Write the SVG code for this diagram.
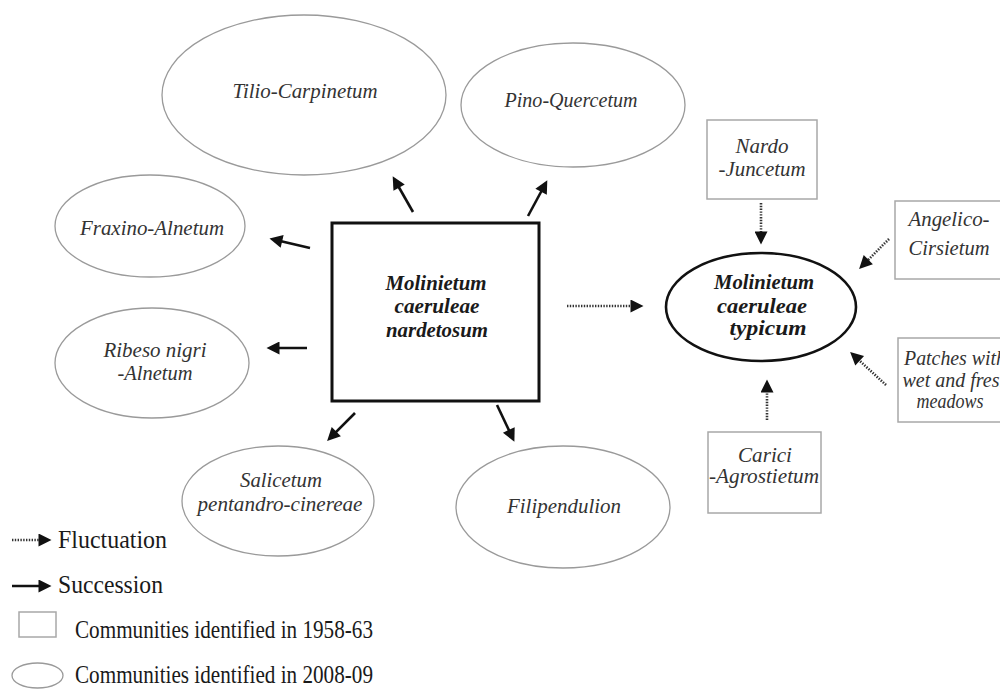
<svg xmlns="http://www.w3.org/2000/svg" width="1000" height="689" viewBox="0 0 1000 689">
<defs>
<style>
.oval{fill:none;stroke:#9a9a9a;stroke-width:1.3}
.box{fill:none;stroke:#a8a8a8;stroke-width:1.5}
.lbl{font-family:"Liberation Serif","Times New Roman",serif;font-style:italic;font-size:22px;fill:#333;text-anchor:middle}
.bold{font-family:"Liberation Serif","Times New Roman",serif;font-style:italic;font-weight:bold;font-size:21px;fill:#1a1a1a;text-anchor:middle}
.leg{font-family:"Liberation Serif","Times New Roman",serif;font-size:26px;fill:#1a1a1a}
.succ{stroke:#111;stroke-width:2.6;fill:none}
.fluc{stroke:#333;stroke-width:2.6;fill:none;stroke-dasharray:1.4 1.4}
</style>
<marker id="ah" viewBox="0 0 10 10" refX="5" refY="5" markerUnits="userSpaceOnUse" markerWidth="16" markerHeight="13" orient="auto">
<path d="M0,0 L10,5 L0,10 z" fill="#111"/>
</marker>
</defs>
<rect width="1000" height="689" fill="#fff"/>

<g id="tilio"><ellipse class="oval" cx="304" cy="95" rx="142" ry="80"/><text class="lbl" x="305" y="98" textLength="145" lengthAdjust="spacingAndGlyphs">Tilio-Carpinetum</text></g>
<g id="pino"><ellipse class="oval" cx="573" cy="105" rx="112" ry="62"/><text class="lbl" x="571" y="107" textLength="133" lengthAdjust="spacingAndGlyphs">Pino-Quercetum</text></g>
<g id="fraxino"><ellipse class="oval" cx="150" cy="226" rx="95" ry="51"/><text class="lbl" x="152" y="235" textLength="144" lengthAdjust="spacingAndGlyphs">Fraxino-Alnetum</text></g>
<g id="ribeso"><ellipse class="oval" cx="152" cy="363" rx="97" ry="55"/><text class="lbl" x="155" y="357" textLength="103" lengthAdjust="spacingAndGlyphs">Ribeso nigri</text><text class="lbl" x="155" y="380" textLength="75" lengthAdjust="spacingAndGlyphs">-Alnetum</text></g>
<g id="salicetum"><ellipse class="oval" cx="278" cy="501" rx="96" ry="55"/><text class="lbl" x="281" y="487" textLength="82" lengthAdjust="spacingAndGlyphs">Salicetum</text><text class="lbl" x="280" y="511" textLength="165" lengthAdjust="spacingAndGlyphs">pentandro-cinereae</text></g>
<g id="filipendulion"><ellipse class="oval" cx="563" cy="507" rx="107" ry="61"/><text class="lbl" x="564" y="513" textLength="114" lengthAdjust="spacingAndGlyphs">Filipendulion</text></g>

<g id="nardetosum"><rect x="332" y="223" width="207" height="178" fill="none" stroke="#111" stroke-width="3"/><text class="bold" x="436" y="290" textLength="101" lengthAdjust="spacingAndGlyphs">Molinietum</text><text class="bold" x="437" y="313" textLength="85" lengthAdjust="spacingAndGlyphs">caeruleae</text><text class="bold" x="437" y="337" textLength="102" lengthAdjust="spacingAndGlyphs">nardetosum</text></g>

<g id="typicum"><ellipse cx="761" cy="307" rx="95" ry="54" fill="none" stroke="#111" stroke-width="2.6"/><text class="bold" x="764" y="289" textLength="100" lengthAdjust="spacingAndGlyphs">Molinietum</text><text class="bold" x="762" y="313" textLength="90" lengthAdjust="spacingAndGlyphs">caeruleae</text><text class="bold" x="768" y="335" textLength="77" lengthAdjust="spacingAndGlyphs">typicum</text></g>

<g id="nardo"><rect class="box" x="707" y="120" width="110" height="79"/><text class="lbl" x="762" y="153" textLength="53" lengthAdjust="spacingAndGlyphs">Nardo</text><text class="lbl" x="762" y="176" textLength="87" lengthAdjust="spacingAndGlyphs">-Juncetum</text></g>
<g id="angelico"><rect class="box" x="895" y="201" width="108" height="78"/><text class="lbl" x="949" y="226" textLength="81" lengthAdjust="spacingAndGlyphs">Angelico-</text><text class="lbl" x="949" y="255" textLength="81" lengthAdjust="spacingAndGlyphs">Cirsietum</text></g>
<g id="patches"><rect class="box" x="898" y="338" width="105" height="84"/><text class="lbl" x="955" y="365" textLength="102" lengthAdjust="spacingAndGlyphs">Patches with</text><text class="lbl" x="956" y="387" textLength="107" lengthAdjust="spacingAndGlyphs">wet and fresh</text><text class="lbl" x="950" y="408" textLength="67" lengthAdjust="spacingAndGlyphs">meadows</text></g>
<g id="carici"><rect class="box" x="708" y="432" width="113" height="81"/><text class="lbl" x="765" y="462" textLength="54" lengthAdjust="spacingAndGlyphs">Carici</text><text class="lbl" x="764" y="483" textLength="110" lengthAdjust="spacingAndGlyphs">-Agrostietum</text></g>

<g id="connectors">
<line class="succ" x1="413" y1="212" x2="395.9" y2="182" marker-end="url(#ah)"/>
<line class="succ" x1="528" y1="216" x2="544.2" y2="186" marker-end="url(#ah)"/>
<line class="succ" x1="310" y1="248" x2="275.8" y2="239.9" marker-end="url(#ah)"/>
<line class="succ" x1="307" y1="348" x2="273" y2="348" marker-end="url(#ah)"/>
<line class="succ" x1="355" y1="413" x2="331.7" y2="436.3" marker-end="url(#ah)"/>
<line class="succ" x1="497" y1="405" x2="511.6" y2="435.8" marker-end="url(#ah)"/>
<line class="fluc" x1="567" y1="306" x2="637" y2="306" marker-end="url(#ah)"/>
<line class="fluc" x1="761" y1="203" x2="761" y2="238" marker-end="url(#ah)"/>
<line class="fluc" x1="889" y1="239" x2="863.7" y2="264.3" marker-end="url(#ah)"/>
<line class="fluc" x1="886" y1="385" x2="854.9" y2="356.4" marker-end="url(#ah)"/>
<line class="fluc" x1="767" y1="420" x2="767" y2="386" marker-end="url(#ah)"/>
</g>

<g id="legend">
<line class="fluc" x1="12" y1="540" x2="45" y2="540" marker-end="url(#ah)"/>
<text class="leg" x="58" y="548" textLength="109" lengthAdjust="spacingAndGlyphs">Fluctuation</text>
<line class="succ" x1="12" y1="586" x2="45" y2="586" marker-end="url(#ah)"/>
<text class="leg" x="58" y="593" textLength="105" lengthAdjust="spacingAndGlyphs">Succession</text>
<rect class="box" x="19" y="612" width="37" height="25"/>
<text class="leg" x="75" y="638" textLength="298" lengthAdjust="spacingAndGlyphs">Communities identified in 1958-63</text>
<ellipse class="oval" cx="37.5" cy="675.5" rx="25.5" ry="12.5"/>
<text class="leg" x="75" y="683" textLength="298" lengthAdjust="spacingAndGlyphs">Communities identified in 2008-09</text>
</g>
</svg>
